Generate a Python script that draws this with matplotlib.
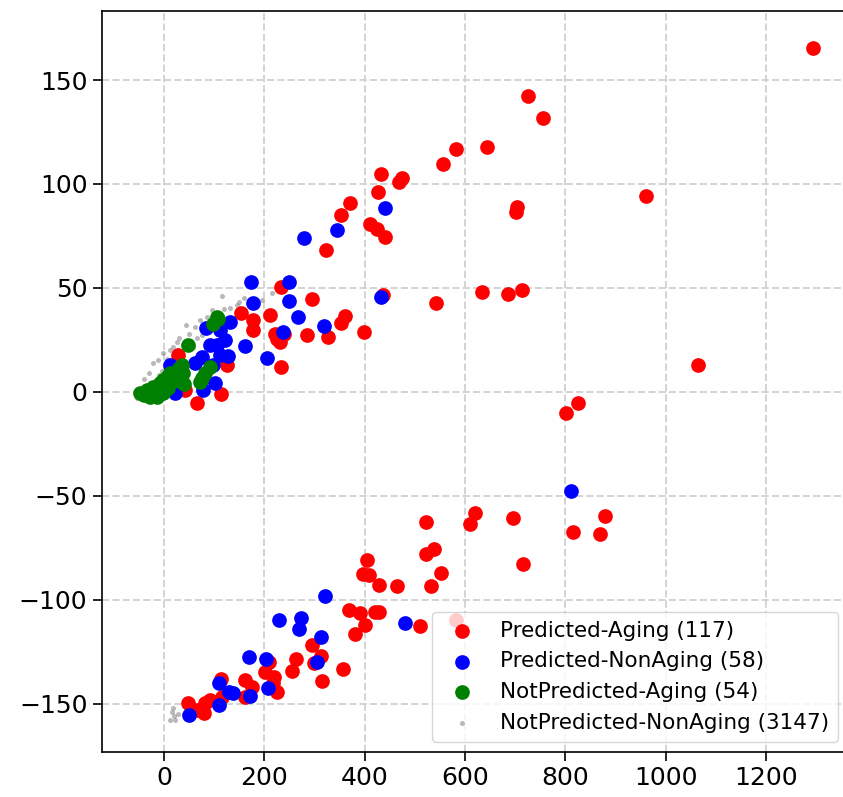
import matplotlib
matplotlib.use("Agg")
import matplotlib.pyplot as plt

# Predicted-Aging points
aging_pred_x = [1295, 725.8, 755.7, 644, 582, 557, 432.5, 474, 468.4, 426, 962, 370, 703.8, 702,
                353, 411, 424, 441, 323, 234, 295.5, 437, 633.4, 686.5, 713.2, 542, 361.3, 352.7,
                285.5, 327.4, 398.6, 240, 231, 152.6, 176.5, 176.5, 211, 221, 224.4, 233, 28.1,
                124.7, 24.9, 41.5, 113.3, 66.2, 78, 1064, 801.6, 825.5,
                620, 610, 523, 696.5, 878.8, 815, 870, 716.4, 523, 538.9, 551.6, 533, 404.6,
                397.3, 409.2, 428, 463.8, 368, 390.6, 420.5, 428, 401.2, 380.7, 510.3, 582,
                294.2, 312.2, 299.5, 356, 314.2, 262.3, 255.6, 209.7, 201, 219.7, 224.4, 217.7,
                161.2, 174.6, 161.2, 113.3, 114.7, 91.4, 81.4, 79.4, 48.1, 64.8]
aging_pred_y = [165.2, 142.3, 131.7, 117.8, 116.7, 109.6, 104.6, 103, 100.8, 96.3, 94, 90.7, 89, 86.5,
                85, 80.7, 78.5, 74.3, 68.1, 50.3, 44.5, 46.6, 48, 46.9, 49.1, 42.8, 36.6, 33.3,
                27.2, 26.2, 28.9, 28, 24, 37.8, 34.6, 29.8, 37, 27.8, 25.3, 11.8, 17.7,
                12.9, 0.9, 0.9, -1, -5.5, 6.5, 12.8, -10.3, -5.5,
                -58.4, -63.7, -62.4, -60.5, -59.6, -67.3, -68.5, -82.8, -77.8, -75.6, -87, -93.5, -81,
                -87.6, -88.1, -92.7, -93.4, -104.9, -106.5, -105.7, -106, -112.1, -116.5, -112.6, -109.7,
                -121.8, -126.9, -130.3, -133.5, -139.1, -128.7, -134.1, -129.8, -134.6, -137.3, -144.4, -140.2,
                -138.6, -141.8, -146.6, -138.1, -146.6, -148.2, -149.5, -154.6, -149.5, -153]

# Predicted-NonAging points
nonaging_pred_x = [811.6, 441, 344, 279, 249.6, 249, 432.5, 266.3, 318.8, 236.4, 173.2, 177.8, 204.5,
                   161.2, 131.3, 111.3, 83.4, 121.3, 104.7, 91.4, 111.3, 127.9, 74.8, 61.4, 96.8,
                   11.6, 18.2, 21.5, 101.3, 78,
                   321.4, 481.2, 229, 273.6, 269, 312.2, 305.5, 169.2, 203.1, 171.2, 207.7, 108.7,
                   128.7, 137.9, 108.7, 48.9]
nonaging_pred_y = [-47.7, 88.6, 78, 74.2, 52.7, 43.8, 45.8, 35.8, 31.5, 28.9, 53, 42.6, 16.1,
                   22.1, 33.8, 29.8, 30.5, 24.9, 22.5, 22.5, 17.7, 17.2, 16.9, 13.7, 12.9,
                   12.9, 0.9, -0.7, 4.1, 0.9,
                   -98, -111.3, -109.7, -108.6, -114.2, -118.1, -129.8, -127.7, -128.7, -146.3, -142.6, -140,
                   -144.2, -145, -150.8, -155.4]

# NotPredicted-Aging points
aging_missed_x = [104.7, 98, 108, 48.1, 91.4, 81.4, 74.8, 71.4, 34.9, 38.1, 30.1, -48, -35, -21.7,
                  -8.4, -1.8, 5, 11.6, -15, -1.8, -28.3, 20, 40, -40, 8]
aging_missed_y = [36.2, 32.6, 35, 22.5, 12.1, 8.9, 6.5, 4.9, 12.9, 8.9, 11.3, -0.7, 0.9, 2.5,
                  4.1, 5.7, 7.3, 8.9, -2.3, -0.7, -2.3, 5, 4, -1.5, 2]

# NotPredicted-NonAging points
nonaging_missed_x = [-55, -45, -35, -30, -25, -20, -15, -10, -5, -21.7, -11.7, -1.8, 11.6, 18.2, 5, 25,
                     43.5, 61.4, 71.4, 58.2, 64.8, 74.8, 94.8, 131.3, 144.6, 114.7, 194.5, 214.5, 150,
                     160, 120, 85, 30, -40, -30, 50,
                     11.6, 15, 20, 22, 28, 18]
nonaging_missed_y = [-3, -2, -1, 2, -4, 4, 6, 8, 10, 13.7, 15.3, 18.5, 20.1, 21.7, 16, 24,
                     32.1, 31.3, 34.6, 21.7, 25.7, 27.3, 39.4, 40.2, 41.8, 46.3, 44.2, 47.4, 43,
                     45, 40, 36, 26, 6, 9, 28,
                     -157.8, -154, -156, -158, -155, -152]

# Group sizes shown in the legend
n_aging_pred = 117
n_nonaging_pred = 58
n_aging_missed = 54
n_nonaging_missed = 3147

x_ticks = [0, 200, 400, 600, 800, 1000, 1200]
y_ticks = [-150, -100, -50, 0, 50, 100, 150]

fig = plt.figure(figsize=(8.43, 7.97), dpi=100)
ax = fig.add_axes([0.1206, 0.0561, 0.8865, 0.9301])

big = 112
ax.scatter(aging_pred_x, aging_pred_y, s=big, c="red", linewidths=0, zorder=2,
           label=f"Predicted-Aging ({n_aging_pred})")
ax.scatter(nonaging_pred_x, nonaging_pred_y, s=big, c="blue", linewidths=0, zorder=3,
           label=f"Predicted-NonAging ({n_nonaging_pred})")
ax.scatter(aging_missed_x, aging_missed_y, s=big, c="green", linewidths=0, zorder=4,
           label=f"NotPredicted-Aging ({n_aging_missed})")
ax.scatter(nonaging_missed_x, nonaging_missed_y, s=13, c="gray", alpha=0.55, linewidths=0, zorder=1,
           label=f"NotPredicted-NonAging ({n_nonaging_missed})")

ax.set_xlim(-124.7, 1366)
ax.set_ylim(-173.4, 183.2)
ax.set_xticks(x_ticks)
ax.set_yticks(y_ticks)
ax.set_axisbelow(True)
ax.grid(True, color="#d3d3d3", linestyle="--", linewidth=1.4)
ax.tick_params(labelsize=18, length=6.7, width=1.2)
for sp in ax.spines.values():
    sp.set_linewidth(1.2)

ax.legend(loc="lower right", fontsize=15.5)

fig.savefig("out.png", dpi=100)
